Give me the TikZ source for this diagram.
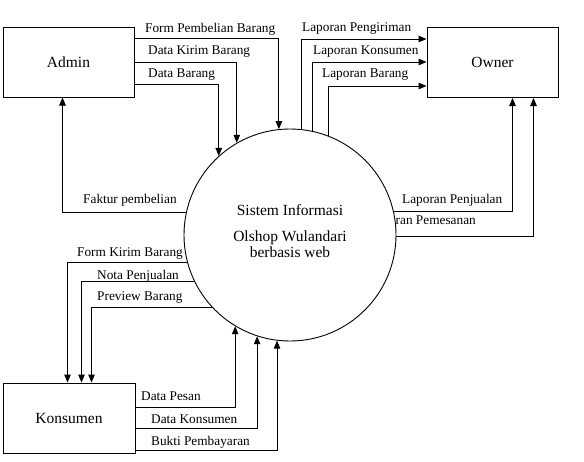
\documentclass[tikz,border=0pt]{standalone}
\usepackage{fontspec}
\setmainfont{Liberation Serif}
\usetikzlibrary{arrows.meta,calc}
\tikzset{
 flow/.style={-{Triangle[length=8pt,width=6.5pt]},line width=1pt},
 entity/.style={draw,line width=1pt,minimum width=131pt,minimum height=70pt,font=\fontsize{15.5}{18}\selectfont},
 proc/.style={draw,circle,fill=white,line width=0.9pt,minimum size=212pt,inner sep=0pt},
 lbl/.style={inner sep=0pt,font=\fontsize{13.3}{15}\selectfont}
}
\begin{document}
\begin{tikzpicture}[x=1pt,y=-1pt]
 \useasboundingbox (0,0) rectangle (584,461);
 \node[entity] (adm) at (68.5,62) {Admin};
 \node[entity] (own) at (492.5,62.5) {Owner};
 \node[entity,minimum width=132pt] (kon) at (69,418) {Konsumen};
 \node[lbl,anchor=east] (lpsn) at (476,222) {Laporan Pemesanan};
 \node[proc] (sis) at (290,235) {};
 \node[align=center,font=\fontsize{15.5}{16}\selectfont] (sistxt) at (290,231) {Sistem Informasi\\[10pt]Olshop Wulandari\\berbasis web};

 \draw[flow] ($(adm.north east)+(0,12)$) -| (sis.96.5);
 \draw[flow] ($(adm.north east)+(0,36)$) -| (sis.120.6);
 \draw[flow] ($(adm.north east)+(0,58)$) -| (sis.132);
 \draw[flow] (sis.168) -| ($(adm.south west)+(60,0)$);

 \draw[flow] (sis.84.6) |- ($(own.north west)+(0,12)$);
 \draw[flow] (sis.78) |- ($(own.north west)+(0,35)$);
 \draw[flow] (sis.69.6) |- ($(own.north west)+(0,59)$);
 \draw[flow] (sis.13.1) -| ($(own.south west)+(86,0)$);
 \draw[flow] (sis.359.5) -| ($(own.south west)+(107,0)$);

 \draw[flow] (sis.195.3) -| ($(kon.north west)+(65,0)$);
 \draw[flow] (sis.206.9) -| ($(kon.north west)+(79,0)$);
 \draw[flow] (sis.223.5) -| ($(kon.north west)+(89,0)$);
 \draw[flow] ($(kon.north east)+(0,25)$) -| (sis.239.4);
 \draw[flow] ($(kon.north east)+(0,46)$) -| (sis.252.4);
 \draw[flow] ($(kon.north east)+(0,68)$) -| (sis.263.5);

 \node[lbl,anchor=west] (lfpb) at (145,29) {Form Pembelian Barang};
 \node[lbl,anchor=west] (ldkb) at (148,52) {Data Kirim Barang};
 \node[lbl,anchor=west] (ldb) at (148,75) {Data Barang};
 \node[lbl,anchor=west] (lfp) at (83,200) {Faktur pembelian};
 \node[lbl,anchor=west] (lpgr) at (302,29) {Laporan Pengiriman};
 \node[lbl,anchor=west] (lpk) at (313,52) {Laporan Konsumen};
 \node[lbl,anchor=west] (lpb) at (322,75) {Laporan Barang};
 \node[lbl,anchor=west] (lpjl) at (402,200) {Laporan Penjualan};
 \node[lbl,anchor=east] (lfkb) at (183,254) {Form Kirim Barang};
 \node[lbl,anchor=west] (lnp) at (97,276) {Nota Penjualan};
 \node[lbl,anchor=west] (lpvb) at (97,298) {Preview Barang};
 \node[lbl,anchor=west] (ldp) at (141,396) {Data Pesan};
 \node[lbl,anchor=west] (ldk) at (151,419) {Data Konsumen};
 \node[lbl,anchor=west] (lbp) at (151,442) {Bukti Pembayaran};
\end{tikzpicture}
\end{document}
